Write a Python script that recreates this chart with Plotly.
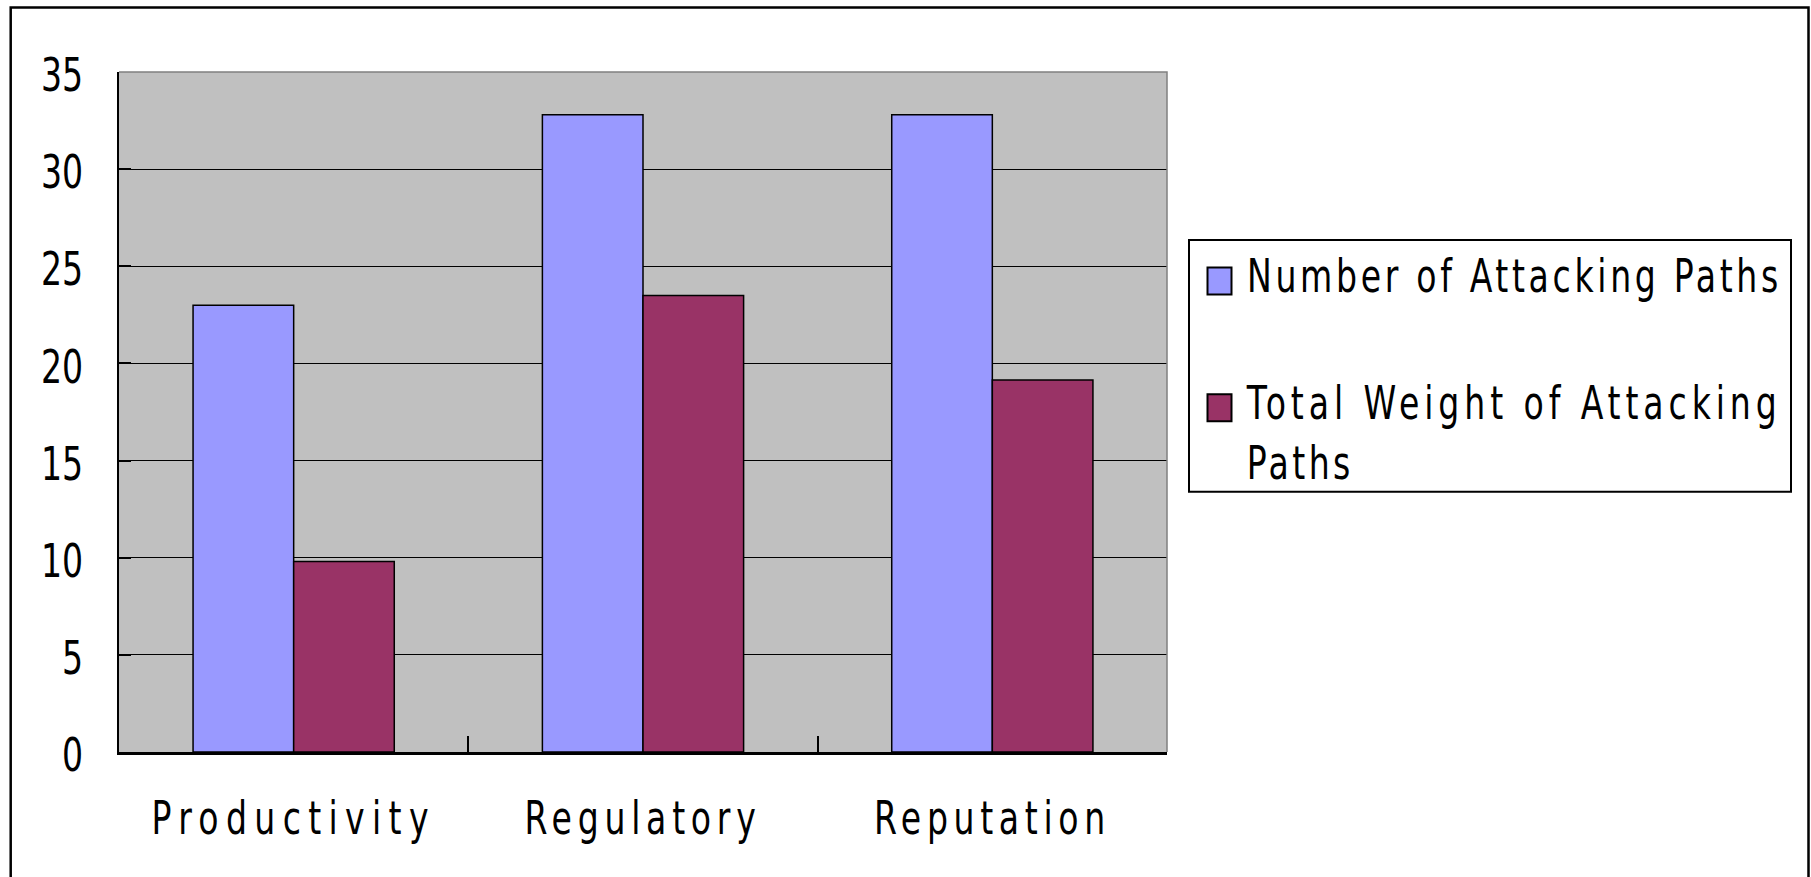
import subprocess
import plotly.graph_objects as go

# Chart data
categories = ["Productivity", "Regulatory", "Reputation"]
series_names = ["Number of Attacking Paths", "Total Weight of Attacking<br>Paths"]
num_paths = [23, 32.8, 32.8]
total_weight = [9.8, 23.5, 19.15]
y_ticks = [0, 5, 10, 15, 20, 25, 30, 35]


def pick_font(preferred, default="Liberation Sans"):
    """Return the first preferred family that fontconfig knows about."""
    try:
        out = subprocess.run(["fc-list", ":", "family"], capture_output=True,
                             text=True, timeout=15).stdout
    except Exception:
        return default
    fams = {f.strip() for line in out.splitlines() for f in line.split(",")}
    for name in preferred:
        if name in fams:
            return name
    return default


BASE = pick_font(["Liberation Sans Narrow", "Arial Narrow", "DejaVu Sans Condensed",
                  "Roboto Condensed", "Open Sans Condensed", "Noto Sans Condensed"])
FONT = BASE + ", Liberation Sans, Arial, sans-serif"

W, H = 1811, 877
ML, MR, MT, MB = 119, 644, 72, 125
PW, PH = W - ML - MR, H - MT - MB


def px_x(x):
    return (x - ML) / PW


def px_y(y):
    return (H - MB - y) / PH


fig = go.Figure()
fig.add_trace(go.Bar(
    x=categories, y=num_paths, name=series_names[0], legendgroup="a",
    marker=dict(color="#9999FF", line=dict(color="black", width=1.5)),
))
fig.add_trace(go.Bar(
    x=categories, y=total_weight, name=series_names[1], legendgroup="b",
    marker=dict(color="#993366", line=dict(color="black", width=1.5)),
))

shapes = [
    # outer chart frame
    dict(type="rect", xref="paper", yref="paper", layer="below",
         x0=px_x(10.7), x1=px_x(1808.5), y0=px_y(900), y1=px_y(7.5),
         line=dict(color="black", width=2.5), fillcolor="rgba(0,0,0,0)"),
    # grey plot-area border on top and right
    dict(type="path", xref="paper", yref="paper", layer="above",
         path="M0,1 L1,1 L1,0", line=dict(color="#808080", width=1.5)),
    # legend frame
    dict(type="rect", xref="paper", yref="paper", layer="below",
         x0=px_x(1189), x1=px_x(1791), y0=px_y(491.7), y1=px_y(240),
         line=dict(color="black", width=2), fillcolor="white"),
]

fig.update_layout(
    width=W, height=H,
    margin=dict(l=ML, r=MR, t=MT, b=MB, pad=0, autoexpand=False),
    paper_bgcolor="white", plot_bgcolor="#C0C0C0",
    barmode="group", bargap=0.424, bargroupgap=0,
    font=dict(family=FONT, size=46, color="black"),
    shapes=shapes,
    showlegend=True,
    legend=dict(
        x=px_x(1192), y=px_y(238), xanchor="left", yanchor="top",
        bgcolor="rgba(0,0,0,0)", borderwidth=0,
        font=dict(family=FONT, size=46, color="black"),
        itemwidth=45, tracegroupgap=64, valign="top",
        traceorder="grouped",
    ),
    xaxis=dict(
        type="category", showline=True, linecolor="black", linewidth=2.5,
        ticks="inside", tickson="boundaries", ticklen=16, tickwidth=1.5,
        tickcolor="black", showgrid=False, zeroline=False,
        ticklabelstandoff=24,
        tickfont=dict(family=FONT, size=46, color="black"),
    ),
    yaxis=dict(
        range=[0, 35], tickvals=y_ticks, showline=True, linecolor="black",
        linewidth=1.5, ticks="inside", ticklen=12, tickwidth=2,
        tickcolor="black", showgrid=True, gridcolor="black", gridwidth=1,
        zeroline=False, ticklabelstandoff=25, ticklabelshift=3,
        tickfont=dict(family=FONT, size=46, color="black"),
    ),
)

# Narrow, fixed-pitch lettering for the axis and legend texts, and larger
# legend swatches sitting on the text baseline.
post = """
var gd = document.getElementById('{plot_id}');
var SX = 0.8;
function narrow(el, adv) {
  if (el.getAttribute('data-base-tf') === null) {
    el.setAttribute('data-base-tf', el.getAttribute('transform') || '');
  }
  var base = el.getAttribute('data-base-tf');
  el.setAttribute('transform', base);
  if (adv) {
    var parts = el.querySelectorAll('tspan.line');
    var items = parts.length ? Array.prototype.slice.call(parts) : [el];
    items.forEach(function (t) {
      t.style.letterSpacing = '0px';
      var n = (t.textContent || '').length;
      if (!n) return;
      var w = t.getComputedTextLength();
      t.style.letterSpacing = ((n * adv / SX - w) / n).toFixed(2) + 'px';
    });
  }
  var bb = el.getBBox();
  var anchor = el.getAttribute('text-anchor') || 'start';
  var ax = anchor === 'middle' ? bb.x + bb.width / 2 :
           anchor === 'end' ? bb.x + bb.width : bb.x;
  el.setAttribute('transform', base + ' translate(' + ax + ',0) scale(' + SX +
                  ',1) translate(' + (-ax) + ',0)');
}
function tweak() {
  gd.querySelectorAll('.xtick text').forEach(function (t) { narrow(t, 23.7); });
  gd.querySelectorAll('.ytick text').forEach(function (t) { narrow(t, 0); });
  gd.querySelectorAll('.legendtext').forEach(function (t) { narrow(t, 21.4); });
  gd.querySelectorAll('.legendpoints path').forEach(function (p) {
    p.setAttribute('d', 'M12,20H-12V-7H12Z');
    p.style.strokeWidth = '2px';
  });
  gd.querySelectorAll('.legend [clip-path]').forEach(function (e) {
    e.removeAttribute('clip-path');
  });
}
tweak();
gd.on('plotly_afterplot', tweak);
"""

fig.write_html("out.html", post_script=post, config={"displayModeBar": False})
